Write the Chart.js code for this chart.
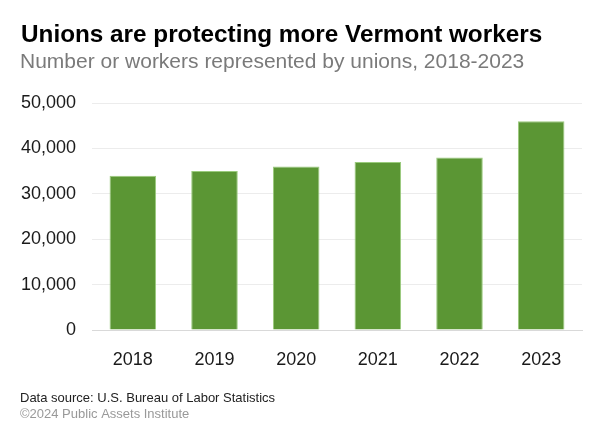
<!DOCTYPE html>
<html>
<head>
<meta charset="utf-8">
<script src="https://cdn.jsdelivr.net/npm/chart.js@4.4.1/dist/chart.umd.min.js"></script>
<style>
  html, body { margin: 0; padding: 0; background: #ffffff; }
  #wrap { position: relative; width: 600px; height: 437px; }
</style>
</head>
<body>
<div id="wrap"><canvas id="c" width="600" height="437"></canvas></div>
<script>
const categories = ["2018", "2019", "2020", "2021", "2022", "2023"];
const workers = [34000, 35000, 36000, 37000, 38000, 46000];
const titleText = "Unions are protecting more Vermont workers";
const subtitleText = "Number or workers represented by unions, 2018-2023";
const sourceText = "Data source: U.S. Bureau of Labor Statistics";
const creditText = "\u00A92024 Public Assets Institute";

const FONT = "'Liberation Sans', Arial, Helvetica, sans-serif";

const textPlugin = {
  id: 'textPlugin',
  afterDraw(chart) {
    const ctx = chart.ctx;
    ctx.save();
    ctx.textAlign = 'left';
    ctx.textBaseline = 'alphabetic';
    ctx.fillStyle = '#000000';
    ctx.font = "bold 24.3px " + FONT;
    ctx.fillText(titleText, 21, 42);
    ctx.fillStyle = '#7a7a7a';
    ctx.font = "21px " + FONT;
    ctx.fillText(subtitleText, 20, 68);
    ctx.fillStyle = '#222222';
    ctx.font = "13px " + FONT;
    ctx.fillText(sourceText, 20, 402);
    ctx.fillStyle = '#999999';
    ctx.fillText(creditText, 20, 418);
    ctx.restore();
  }
};

new Chart(document.getElementById('c'), {
  type: 'bar',
  data: {
    labels: categories,
    datasets: [{
      data: workers,
      backgroundColor: '#5b9634',
      borderColor: '#9acb7c',
      borderWidth: 1,
      categoryPercentage: 1.0,
      barPercentage: 0.57
    }]
  },
  options: {
    responsive: false,
    animation: false,
    devicePixelRatio: 1,
    layout: { padding: { top: 103, right: 18, bottom: 66, left: 0 } },
    plugins: { legend: { display: false }, tooltip: { enabled: false }, title: { display: false } },
    scales: {
      x: {
        grid: { display: false, drawTicks: false },
        border: { display: true, color: '#d9d9d9', width: 1 },
        ticks: { color: '#1a1a1a', font: { family: FONT, size: 18 }, padding: 19, maxRotation: 0 },
        afterFit(scale) { scale.height = 41; }
      },
      y: {
        min: 0, max: 50000,
        grid: { color: '#ececec', drawTicks: false, lineWidth: 1 },
        border: { display: false },
        ticks: {
          stepSize: 10000,
          color: '#1a1a1a',
          font: { family: FONT, size: 18 },
          padding: 16,
          callback: v => v.toLocaleString('en-US')
        },
        afterFit(scale) { scale.width = 92; }
      }
    }
  },
  plugins: [textPlugin]
});
</script>
</body>
</html>
